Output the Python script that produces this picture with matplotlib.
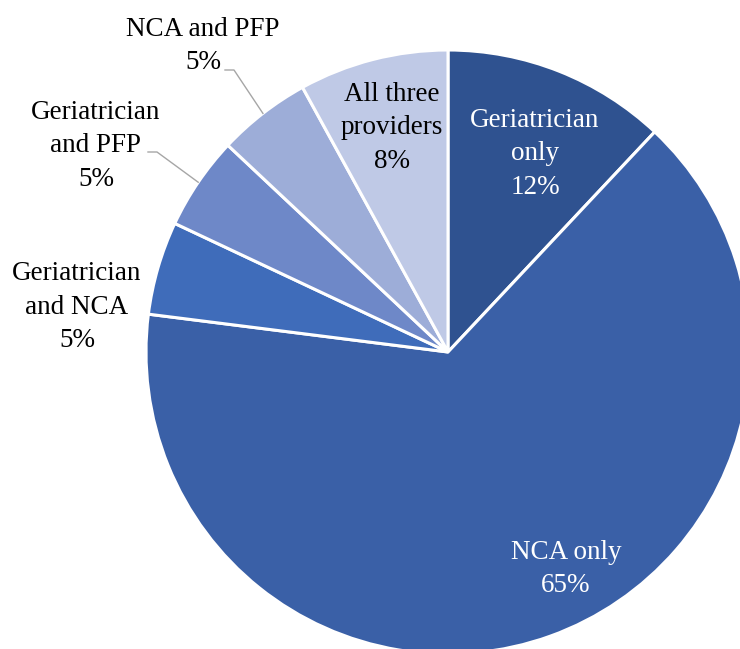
import matplotlib
matplotlib.use("Agg")
import matplotlib.pyplot as plt
import numpy as np

categories = ["Geriatrician only", "NCA only", "Geriatrician and NCA",
              "Geriatrician and PFP", "NCA and PFP", "All three providers"]
values = [12, 65, 5, 5, 5, 8]
label_texts = ["Geriatrician\nonly\n12%", "NCA only\n65%", "Geriatrician\nand NCA\n5%",
               "Geriatrician\nand PFP\n5%", "NCA and PFP\n5%", "All three\nproviders\n8%"]

colors = ["#2F5290", "#3A60A7", "#3F6CBA", "#6E88C8", "#9DADD8", "#BFC9E6"]
text_colors = ["white", "white", "black", "black", "black", "black"]
# label centres in pixel coords (x, y from top)
label_pos = [(535, 154), (566, 569), (77, 307), (96, 146), (203, 46), (392, 128)]
leader = [False, False, False, True, True, False]
leader_start = {3: (148, 152), 4: (225, 70)}

W, H = 740, 649
fig = plt.figure(figsize=(W / 100, H / 100), dpi=100)
ax = fig.add_axes([0, 0, 1, 1])
ax.set_xlim(0, W)
ax.set_ylim(0, H)
ax.set_aspect("equal")
ax.axis("off")

cx, cy, R = 448, H - 352, 302
wedges, _ = ax.pie(values, colors=colors, startangle=90, counterclock=False,
                   center=(cx, cy), radius=R, frame=True,
                   wedgeprops=dict(edgecolor="white", linewidth=2.2))
ax.set_xlim(0, W)
ax.set_ylim(0, H)
ax.axis("off")

for i, (t, (x, y)) in enumerate(zip(label_texts, label_pos)):
    ax.text(x, H - y, t, ha="center", va="center", fontsize=19.5,
            family="Liberation Serif", color=text_colors[i], linespacing=1.45)
    if leader[i]:
        w = wedges[i]
        mid = np.deg2rad((w.theta1 + w.theta2) / 2)
        ex, ey = cx + R * np.cos(mid), cy + R * np.sin(mid)
        sx, sy = leader_start[i]
        sy = H - sy
        ax.plot([sx, sx + 9, ex], [sy, sy, ey], color="#A6A6A6", lw=1.0)

fig.savefig("out.png", dpi=100)
